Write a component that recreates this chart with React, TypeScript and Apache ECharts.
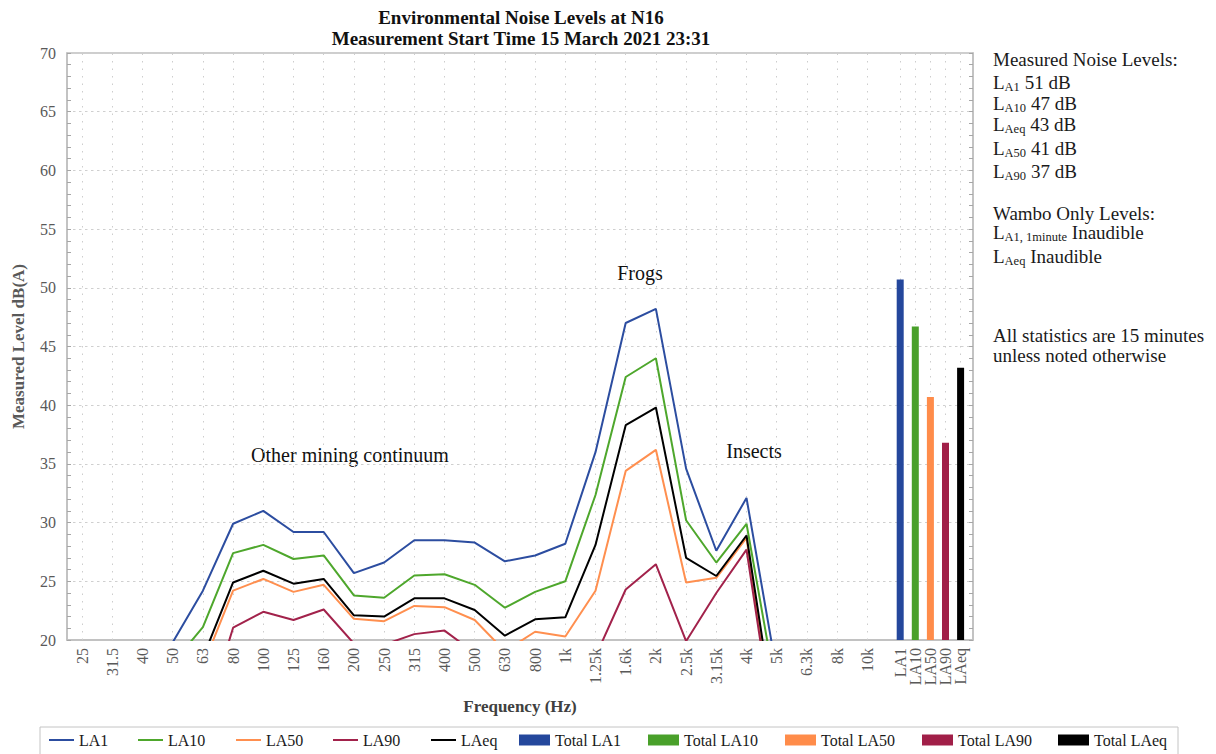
import React, { useEffect, useRef } from "react";
import * as echarts from "echarts";

// ---------- data ----------
const frequencyLabels = ["25", "31.5", "40", "50", "63", "80", "100", "125", "160", "200", "250", "315", "400", "500", "630", "800", "1k", "1.25k", "1.6k", "2k", "2.5k", "3.15k", "4k", "5k", "6.3k", "8k", "10k"];
const la1Values = [null, null, null, 19.8, 24.2, 29.9, 31.0, 29.2, 29.2, 25.7, 26.6, 28.5, 28.5, 28.3, 26.7, 27.2, 28.2, 36.0, 47.0, 48.2, 34.6, 27.6, 32.1, 17.3, null, null, null];
const la10Values = [null, null, null, 18.0, 21.1, 27.4, 28.1, 26.9, 27.2, 23.8, 23.6, 25.5, 25.6, 24.7, 22.75, 24.1, 25.0, 32.35, 42.4, 44.0, 30.2, 26.6, 29.9, 15.4, null, null, null];
const la50Values = [null, null, null, null, 17.8, 24.2, 25.2, 24.1, 24.7, 21.8, 21.6, 22.9, 22.8, 21.7, 19.05, 20.7, 20.3, 24.2, 34.4, 36.2, 24.9, 25.3, 28.7, 10.8, null, null, null];
const la90Values = [null, null, null, null, 12.6, 21.05, 22.4, 21.7, 22.6, 19.7, 19.6, 20.5, 20.8, 18.9, null, null, null, 18.6, 24.3, 26.45, 19.9, 24.0, 27.7, 10.7, null, null, null];
const laeqValues = [null, null, null, null, 18.5, 24.9, 25.9, 24.8, 25.2, 22.1, 22.0, 23.55, 23.55, 22.56, 20.37, 21.76, 21.93, 28.1, 38.3, 39.8, 27.0, 25.45, 28.9, 12.1, null, null, null];

const lineNames = ["LA1", "LA10", "LA50", "LA90", "LAeq"];
const totalLabels = ["LA1", "LA10", "LA50", "LA90", "LAeq"];
const totalNames = ["Total LA1", "Total LA10", "Total LA50", "Total LA90", "Total LAeq"];
const totalValues = [50.7, 46.7, 40.7, 36.8, 43.2];

const yMin = 20;
const yMax = 70;
const yStep = 5;

const measuredLevels = [
  ["A1", "51 dB"],
  ["A10", "47 dB"],
  ["Aeq", "43 dB"],
  ["A50", "41 dB"],
  ["A90", "37 dB"],
];
const wamboLevels = [
  ["A1, 1minute", "Inaudible"],
  ["Aeq", "Inaudible"],
];

// ---------- styles / layout ----------
const SERIF = '"Liberation Serif", "Times New Roman", serif';
const lineColors = ["#2c4da0", "#4ea72c", "#ff8f4f", "#a2224b", "#000000"];
const barColors = ["#24479c", "#49a02a", "#ff8c4a", "#a11f48", "#000000"];
const axisGrey = "#bfbfbf";
const labelGrey = "#595959";

const W = 1216;
const H = 754;
const gridTop = 53;
const gridBottom = 114;
const gridLeft = 67;
const gridRight = 243;
const plotH = H - gridTop - gridBottom;
const extraSlots = 3;
const barBand = 15.1;
const barGridLeft = 892.65;
const lineLegendLeft = [49, 138, 236, 333, 431];
const barLegendLeft = [519, 648, 785, 922, 1058];
// thin line icon kept vertically centred inside a 25x14 legend box
const LINE_ICON = "path://M0 0L0.01 0L0.01 0.01L0 0.01Z M0 6L25 6L25 8L0 8Z M24.99 13.99L25 13.99L25 14L24.99 14Z";

export default function App() {
  const ref = useRef<HTMLDivElement>(null);

  useEffect(() => {
    if (!ref.current) return;
    const chart = echarts.init(ref.current, undefined, { renderer: "svg" });

    const cats = [...frequencyLabels, ...Array(extraSlots).fill("")];
    const lineData = [la1Values, la10Values, la50Values, la90Values, laeqValues];

    const tickGrid = {
      show: true,
      inside: true,
      length: plotH,
      alignWithLabel: true,
      lineStyle: { color: "#cdcdcd", width: 1, type: [1.5, 6] },
    };
    const xLabel = {
      interval: 0,
      rotate: 90,
      fontFamily: SERIF,
      fontSize: 16,
      color: labelGrey,
      margin: 8,
    };

    const rowText = (sub: string, rest: string) => `{n|L}{s|${sub}}{n| ${rest}}`;
    const rich = {
      n: { fontFamily: SERIF, fontSize: 19, lineHeight: 22, fill: "#1a1a1a", color: "#1a1a1a" },
      s: { fontFamily: SERIF, fontSize: 12.5, lineHeight: 14, verticalAlign: "bottom", fill: "#1a1a1a", color: "#1a1a1a" },
    };
    const panelX = 993;
    const measuredY = [82, 103.6, 124.3, 148.6, 171];
    const wamboY = [232.6, 256.3];
    const panelRich = (text: string, y: number) => ({
      type: "text",
      style: { text, x: panelX, y, rich, verticalAlign: "middle", align: "left" },
    });

    const graphics: any[] = [
      {
        type: "text",
        style: {
          text: "Environmental Noise Levels at N16\nMeasurement Start Time 15 March 2021 23:31",
          x: 521,
          y: 27.5,
          font: `bold 19px ${SERIF}`,
          lineHeight: 21,
          fill: "#111",
          align: "center",
          verticalAlign: "middle",
        },
      },
      { type: "text", style: { text: "Other mining continuum", x: 350, y: 455, font: `20px ${SERIF}`, fill: "#111", align: "center", verticalAlign: "middle" } },
      { type: "text", style: { text: "Frogs", x: 640, y: 273, font: `20px ${SERIF}`, fill: "#111", align: "center", verticalAlign: "middle" } },
      { type: "text", style: { text: "Insects", x: 754, y: 451, font: `20px ${SERIF}`, fill: "#111", align: "center", verticalAlign: "middle" } },
      { type: "text", style: { text: "Measured Noise Levels:", x: panelX, y: 59.6, font: `19px ${SERIF}`, fill: "#1a1a1a", verticalAlign: "middle" } },
      ...measuredLevels.map((r, i) => panelRich(rowText(r[0], r[1]), measuredY[i])),
      { type: "text", style: { text: "Wambo Only Levels:", x: panelX, y: 213.6, font: `19px ${SERIF}`, fill: "#1a1a1a", verticalAlign: "middle" } },
      ...wamboLevels.map((r, i) => panelRich(rowText(r[0], r[1]), wamboY[i])),
      {
        type: "text",
        style: {
          text: "All statistics are 15 minutes\nunless noted otherwise",
          x: panelX,
          y: 345.4,
          font: `19px ${SERIF}`,
          lineHeight: 19.6,
          fill: "#1a1a1a",
          verticalAlign: "middle",
        },
      },
      {
        type: "rect",
        shape: { x: 40, y: 727, width: 1138, height: 40 },
        style: { fill: "none", stroke: "#c4c4c4", lineWidth: 1 },
        silent: true,
      },
    ];

    const legendText = { fontFamily: SERIF, fontSize: 16, color: "#1a1a1a" };
    const legends = [
      ...lineNames.map((name, i) => ({
        data: [name],
        left: lineLegendLeft[i],
        top: 732,
        padding: 0,
        itemWidth: 25,
        itemHeight: 14,
        icon: LINE_ICON,
        selectedMode: false,
        textStyle: legendText,
      })),
      ...totalNames.map((name, i) => ({
        data: [name],
        left: barLegendLeft[i],
        top: 732,
        padding: 0,
        itemWidth: 31,
        itemHeight: 11,
        icon: "rect",
        selectedMode: false,
        textStyle: legendText,
      })),
    ];

    const option: any = {
      animation: false,
      backgroundColor: "#ffffff",
      grid: [
        {
          left: gridLeft,
          right: gridRight,
          top: gridTop,
          bottom: gridBottom,
          show: true,
          borderColor: axisGrey,
          borderWidth: 1.5,
          backgroundColor: "transparent",
        },
        {
          left: barGridLeft,
          width: barBand * totalLabels.length,
          top: gridTop,
          bottom: gridBottom,
        },
      ],
      xAxis: [
        {
          type: "category",
          gridIndex: 0,
          data: cats,
          boundaryGap: true,
          axisLine: { show: true, lineStyle: { color: axisGrey, width: 1.5 } },
          axisTick: { ...tickGrid, interval: (i: number) => i < frequencyLabels.length },
          axisLabel: xLabel,
          splitLine: { show: false },
          name: "Frequency (Hz)",
          nameLocation: "middle",
          nameGap: 58,
          nameTextStyle: { fontFamily: SERIF, fontWeight: "bold", fontSize: 17, color: "#404040" },
        },
        {
          type: "category",
          gridIndex: 1,
          data: totalLabels,
          boundaryGap: true,
          axisLine: { show: false },
          axisTick: { ...tickGrid, interval: 0 },
          axisLabel: xLabel,
          splitLine: { show: false },
        },
      ],
      yAxis: [
        {
          type: "value",
          gridIndex: 0,
          position: "left",
          min: yMin,
          max: yMax,
          interval: yStep,
          axisLine: { show: true, lineStyle: { color: axisGrey, width: 1.5 } },
          axisTick: { show: true, inside: true, length: 4, lineStyle: { color: "#a6a6a6" } },
          minorTick: { show: true, splitNumber: 5, length: 4, lineStyle: { color: "#a6a6a6" } },
          axisLabel: { fontFamily: SERIF, fontSize: 16, color: labelGrey, margin: 11 },
          splitLine: { show: true, lineStyle: { color: "#cfcfcf", type: [2.5, 3.5] } },
          name: "Measured Level dB(A)",
          nameLocation: "middle",
          nameGap: 40,
          nameTextStyle: { fontFamily: SERIF, fontWeight: "bold", fontSize: 17, color: labelGrey },
        },
        {
          type: "value",
          gridIndex: 0,
          position: "right",
          min: yMin,
          max: yMax,
          interval: yStep,
          axisLine: { show: true, lineStyle: { color: axisGrey, width: 1.5 } },
          axisTick: { show: true, inside: true, length: 4, lineStyle: { color: "#a6a6a6" } },
          minorTick: { show: true, splitNumber: 5, length: 4, lineStyle: { color: "#a6a6a6" } },
          axisLabel: { show: false },
          splitLine: { show: false },
        },
        { type: "value", gridIndex: 1, min: yMin, max: yMax, show: false },
      ],
      legend: legends,
      graphic: graphics,
      series: [
        ...lineNames.map((name, i) => ({
          name,
          type: "line",
          xAxisIndex: 0,
          yAxisIndex: 0,
          data: lineData[i],
          symbol: "none",
          connectNulls: false,
          clip: true,
          lineStyle: { color: lineColors[i], width: 2 },
          itemStyle: { color: lineColors[i] },
          z: 3,
        })),
        ...totalNames.map((name, i) => ({
          name,
          type: "bar",
          xAxisIndex: 1,
          yAxisIndex: 2,
          data: totalValues.map((v, j) => (j === i ? v : "-")),
          barWidth: 7,
          barGap: "-100%",
          clip: true,
          itemStyle: { color: barColors[i] },
          z: 3,
        })),
      ],
    };

    chart.setOption(option);
    return () => chart.dispose();
  }, []);

  return (
    <div
      ref={ref}
      style={{ position: "fixed", left: 0, top: 0, width: W, height: H, background: "#fff" }}
    />
  );
}
